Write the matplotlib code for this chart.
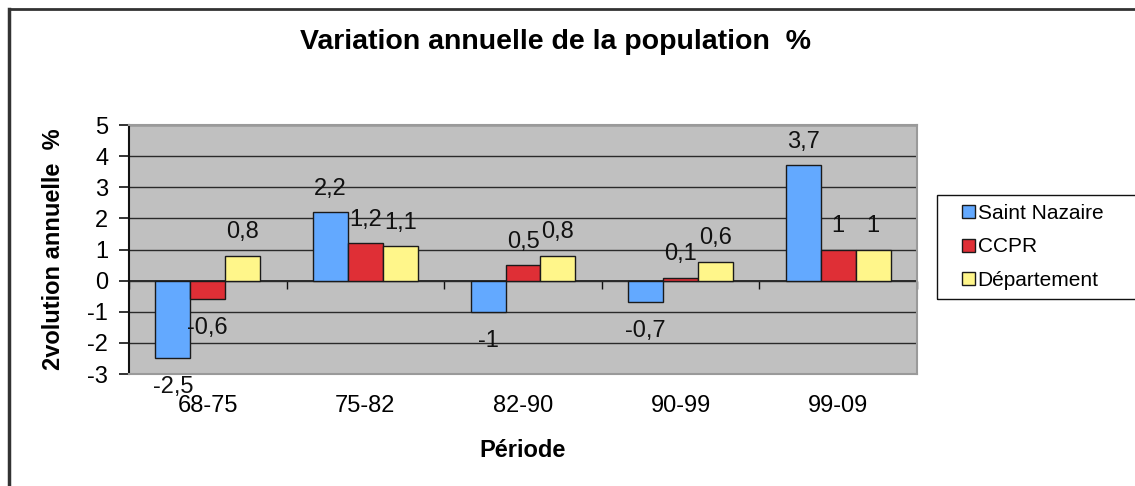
import matplotlib
matplotlib.use("Agg")
import matplotlib.pyplot as plt
from matplotlib.lines import Line2D
from matplotlib.patches import Rectangle
import numpy as np

plt.rcParams['font.family'] = ['Liberation Sans', 'DejaVu Sans']

categories = ["68-75", "75-82", "82-90", "90-99", "99-09"]
series_names = ["Saint Nazaire", "CCPR", "Département"]
saint_nazaire = [-2.5, 2.2, -1.0, -0.7, 3.7]
ccpr = [-0.6, 1.2, 0.5, 0.1, 1.0]
departement = [0.8, 1.1, 0.8, 0.6, 1.0]
yticks = [-3, -2, -1, 0, 1, 2, 3, 4, 5]
colors = ["#63A9FF", "#DF2F36", "#FFF68A"]

title = "Variation annuelle de la population  %"
ylabel = "2volution annuelle  %"
xlabel = "Période"


def fmt(v):
    return ("%g" % v).replace(".", ",")


W, H = 1135, 486
fig = plt.figure(figsize=(W / 100, H / 100), dpi=100)
ax = fig.add_axes([129 / W, 1 - 374 / H, (917 - 129) / W, (374 - 125) / H])
ax.set_facecolor("#C0C0C0")

x = np.arange(len(categories))
w = 0.222
series = [saint_nazaire, ccpr, departement]
handles = []
for j, (vals, name, c) in enumerate(zip(series, series_names, colors)):
    bars = ax.bar(x + (j - 1) * w, vals, width=w, color=c, edgecolor="#1a1a1a",
                  linewidth=1.0, label=name, zorder=3)
    handles.append(bars)
    for b, v in zip(bars, vals):
        ax.annotate(fmt(v), (b.get_x() + b.get_width() / 2, v),
                    xytext=(0, 9 if v >= 0 else -13), textcoords="offset points",
                    ha="center", va="bottom" if v >= 0 else "top",
                    fontsize=17, color="#111111", zorder=4, annotation_clip=False)

ymin, ymax = min(yticks), max(yticks)
ax.set_xlim(-0.5, len(categories) - 0.5)
ax.set_ylim(ymin, ymax)
ax.set_yticks(yticks)
ax.set_yticklabels([str(t) for t in yticks], fontsize=17)
ax.yaxis.grid(True, color="#2a2a2a", linewidth=1.0)
ax.set_axisbelow(True)
ax.tick_params(axis="y", direction="out", length=7, width=1.2, color="#111111", pad=8)

ax.set_xticks(x)
ax.set_xticklabels(categories, fontsize=17)
ax.tick_params(axis="x", length=0, pad=15)

for s in ["top", "right", "bottom"]:
    ax.spines[s].set_color("#9a9a9a")
    ax.spines[s].set_linewidth(1.5)
ax.spines["left"].set_color("#111111")
ax.spines["left"].set_linewidth(1.5)

sec = ax.secondary_xaxis((0 - ymin) / (ymax - ymin))
sec.set_xticks(np.arange(len(categories) + 1) - 0.5)
sec.set_xticklabels([])
sec.tick_params(direction="out", length=6, width=1, color="#111111")
sec.spines["bottom"].set_color("#111111")
sec.spines["bottom"].set_linewidth(1.2)

ax.set_ylabel(ylabel, fontsize=17, fontweight="bold", labelpad=16)
ax.set_xlabel(xlabel, fontsize=17, fontweight="bold", labelpad=16)
fig.text(555 / W, 1 - 49 / H, title, fontsize=20.5, fontweight="bold",
         ha="center", va="baseline")

leg = fig.legend(handles=handles, labels=series_names, loc="center left",
                 bbox_to_anchor=(962 / W, 1 - 247 / H),
                 fontsize=15, frameon=False,
                 handlelength=0.6, handleheight=0.6, handletextpad=0.15,
                 labelspacing=0.7, borderpad=0, borderaxespad=0)
fig.add_artist(Rectangle((937 / W, 1 - 299 / H), (1140 - 937) / W, (299 - 195) / H,
                         transform=fig.transFigure, fill=False,
                         edgecolor="#111111", linewidth=1.0))

fig.add_artist(Line2D([9 / W, 1], [1 - 9 / H, 1 - 9 / H], color="#333333",
                      linewidth=2, transform=fig.transFigure))
fig.add_artist(Line2D([9 / W, 9 / W], [0, 1 - 9 / H], color="#333333",
                      linewidth=2.5, transform=fig.transFigure))

fig.savefig("out.png", dpi=100, facecolor="white")
